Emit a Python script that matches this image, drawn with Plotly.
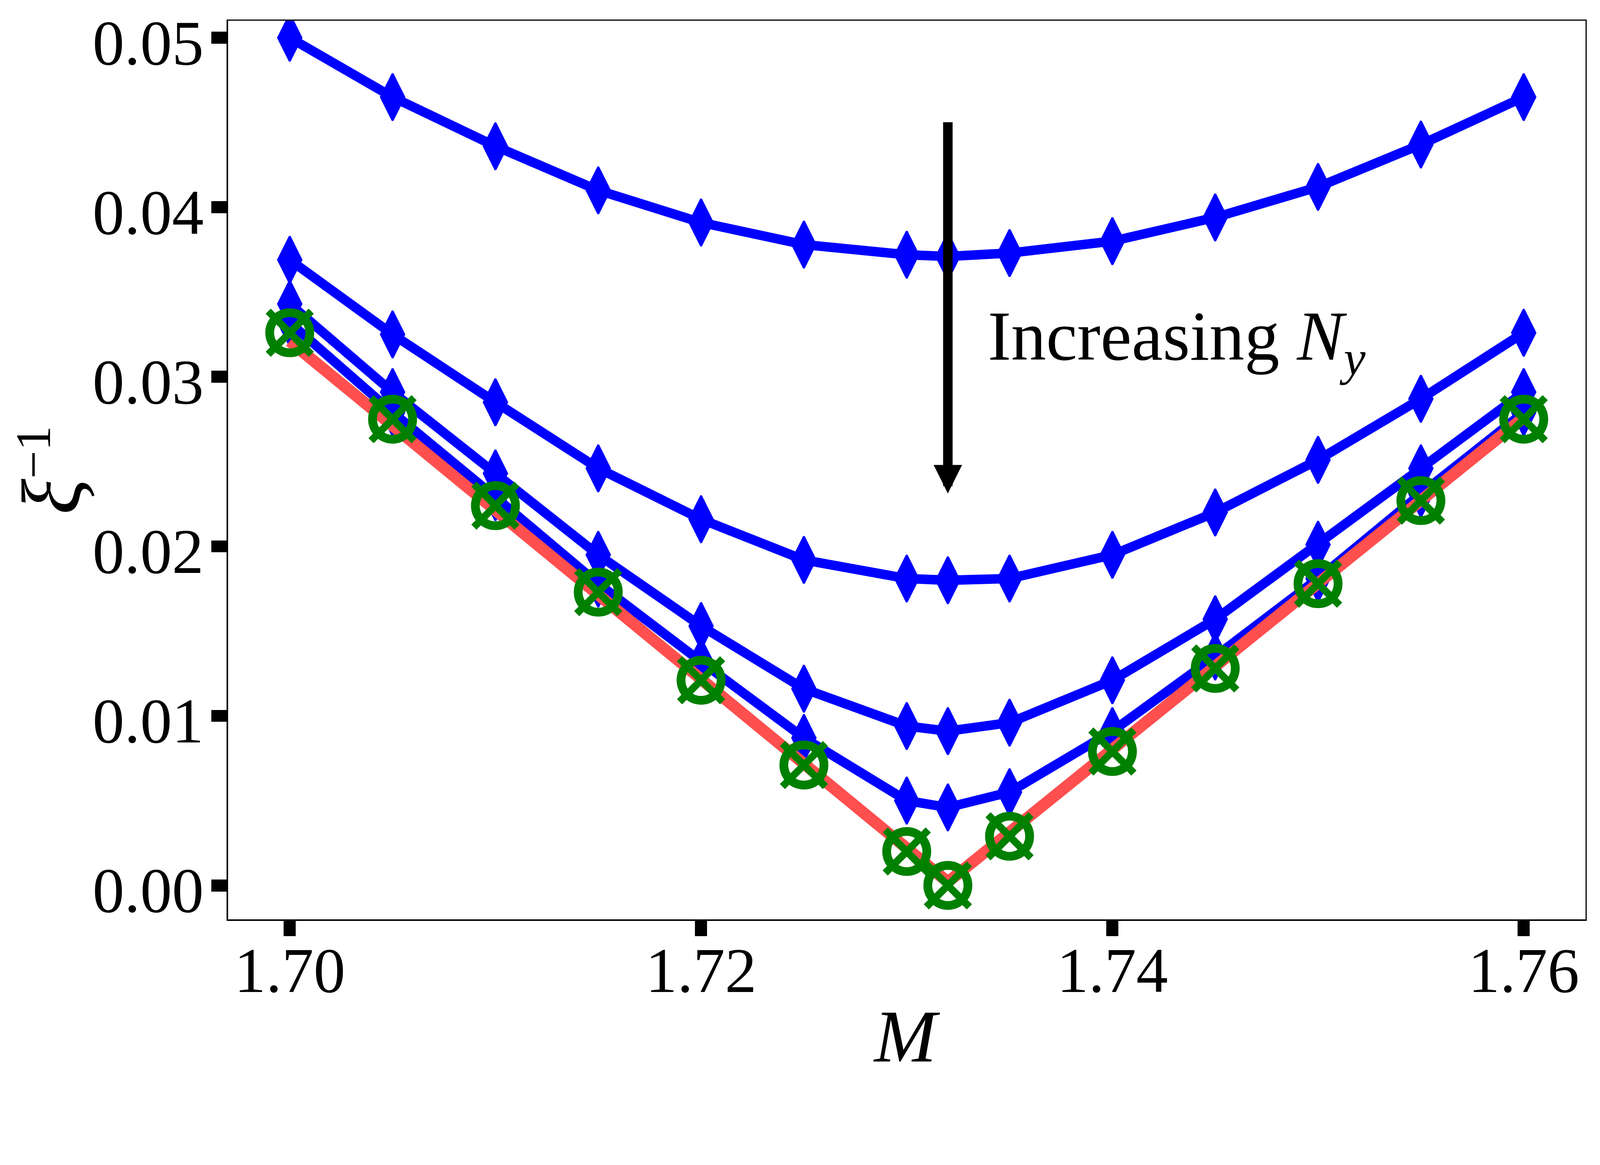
import plotly.graph_objects as go

# ---- data ----
M = [1.700, 1.705, 1.710, 1.715, 1.720, 1.725, 1.730, 1.732, 1.735,
     1.740, 1.745, 1.750, 1.755, 1.760]

xi_inv_Ny1 = [0.0500, 0.0465, 0.0436, 0.0410, 0.0391, 0.0378, 0.0372, 0.0371,
              0.0373, 0.0380, 0.0394, 0.0412, 0.0437, 0.0465]
xi_inv_Ny2 = [0.0369, 0.0325, 0.0285, 0.0246, 0.0216, 0.0192, 0.0181, 0.0180,
              0.0181, 0.0195, 0.0220, 0.0251, 0.0287, 0.0326]
xi_inv_Ny3 = [0.0343, 0.0291, 0.0243, 0.0195, 0.0153, 0.0116, 0.0094, 0.0091,
              0.0096, 0.0121, 0.0157, 0.0201, 0.0246, 0.0291]
xi_inv_Ny4 = [0.0332, 0.0279, 0.0229, 0.0178, 0.0132, 0.0087, 0.0050, 0.0046,
              0.0055, 0.0091, 0.0135, 0.0181, 0.0231, 0.0279]
xi_inv_extrap = [0.0326, 0.0275, 0.0224, 0.0173, 0.0121, 0.0071, 0.0020, 0.0000,
                 0.0029, 0.0079, 0.0128, 0.0178, 0.0227, 0.0275]

fit_M = [1.700, 1.732, 1.760]
fit_xi_inv = [0.0321, 0.0002, 0.0276]

x_ticks = [1.70, 1.72, 1.74, 1.76]
y_ticks = [0.00, 0.01, 0.02, 0.03, 0.04, 0.05]

arrow_M = 1.732
arrow_top = 0.04505
arrow_tip = 0.02312

FONT = "Liberation Serif"
BLUE = "#0000ff"
GREEN = "#008000"
RED = "#ff4f4f"
W, H = 4385, 2983

fig = go.Figure()

for ys in [xi_inv_Ny1, xi_inv_Ny2, xi_inv_Ny3, xi_inv_Ny4]:
    fig.add_trace(go.Scatter(
        x=M, y=ys, mode="lines+markers",
        line=dict(color=BLUE, width=26),
        marker=dict(symbol="diamond-tall", size=92, color=BLUE,
                    line=dict(color=BLUE, width=5)),
        showlegend=False, hoverinfo="skip"))

fig.add_trace(go.Scatter(
    x=fit_M, y=fit_xi_inv, mode="lines",
    line=dict(color=RED, width=32),
    showlegend=False, hoverinfo="skip"))

fig.add_trace(go.Scatter(
    x=M, y=xi_inv_extrap, mode="markers",
    marker=dict(symbol="circle-open", size=110, color=GREEN,
                line=dict(color=GREEN, width=24)),
    showlegend=False, hoverinfo="skip"))
fig.add_trace(go.Scatter(
    x=M, y=xi_inv_extrap, mode="markers",
    marker=dict(symbol="x-thin-open", size=118, color=GREEN,
                line=dict(color=GREEN, width=20)),
    showlegend=False, hoverinfo="skip"))

axis_common = dict(
    showline=True, linecolor="black", linewidth=4, mirror=True,
    ticks="outside", ticklen=42, tickwidth=33, tickcolor="black",
    showgrid=False, zeroline=False,
    tickfont=dict(family=FONT, size=174, color="black"),
)

fig.update_xaxes(range=[1.6970, 1.7630], tickvals=x_ticks,
                 ticktext=[f"{v:.2f}" for v in x_ticks],
                 ticklabelstandoff=-56, **axis_common)
fig.update_yaxes(range=[-0.0020, 0.0510], tickvals=y_ticks,
                 ticktext=[f"{v:.2f}" for v in y_ticks],
                 ticklabelstandoff=-14, ticklabelshift=12, **axis_common)

fig.add_annotation(
    x=arrow_M, y=arrow_tip, ax=arrow_M, ay=arrow_top,
    xref="x", yref="y", axref="x", ayref="y",
    text="", showarrow=True, arrowhead=2, arrowsize=0.6,
    arrowwidth=26, arrowcolor="black", standoff=0, startstandoff=0)

fig.add_annotation(
    x=1.7339, y=0.0321, xref="x", yref="y", xanchor="left", yanchor="middle",
    text="Increasing <i>N</i><sub><i>y</i></sub>", showarrow=False,
    font=dict(family=FONT, size=192, color="black"))

fig.add_annotation(
    x=1.730, y=-0.130, xref="x", yref="paper", xanchor="center", yanchor="middle",
    text="<i>M</i>", showarrow=False,
    font=dict(family=FONT, size=205, color="black"))

fig.add_annotation(
    x=-0.130, y=0.5, xref="paper", yref="paper", xanchor="center", yanchor="middle",
    text='<span style="font-size:230px"><i>ξ</i></span><sup>−1</sup>',
    textangle=-90, showarrow=False,
    font=dict(family=FONT, size=195, color="black"))

fig.update_layout(
    width=W, height=H,
    margin=dict(l=625, r=40, t=57, b=463),
    paper_bgcolor="white", plot_bgcolor="white",
)

# fit the fixed-size figure exactly into the browser viewport
fit_js = """
var gd = document.getElementById('{plot_id}');
document.documentElement.style.overflow = 'hidden';
document.body.style.margin = '0';
document.body.style.overflow = 'hidden';
var k = Math.min(document.documentElement.clientWidth / %d,
                 document.documentElement.clientHeight / %d);
gd.style.transformOrigin = '0 0';
gd.style.transform = 'scale(' + k + ')';
""" % (W, H)

fig.write_html("out.html", post_script=fit_js,
               config={"displayModeBar": False})
